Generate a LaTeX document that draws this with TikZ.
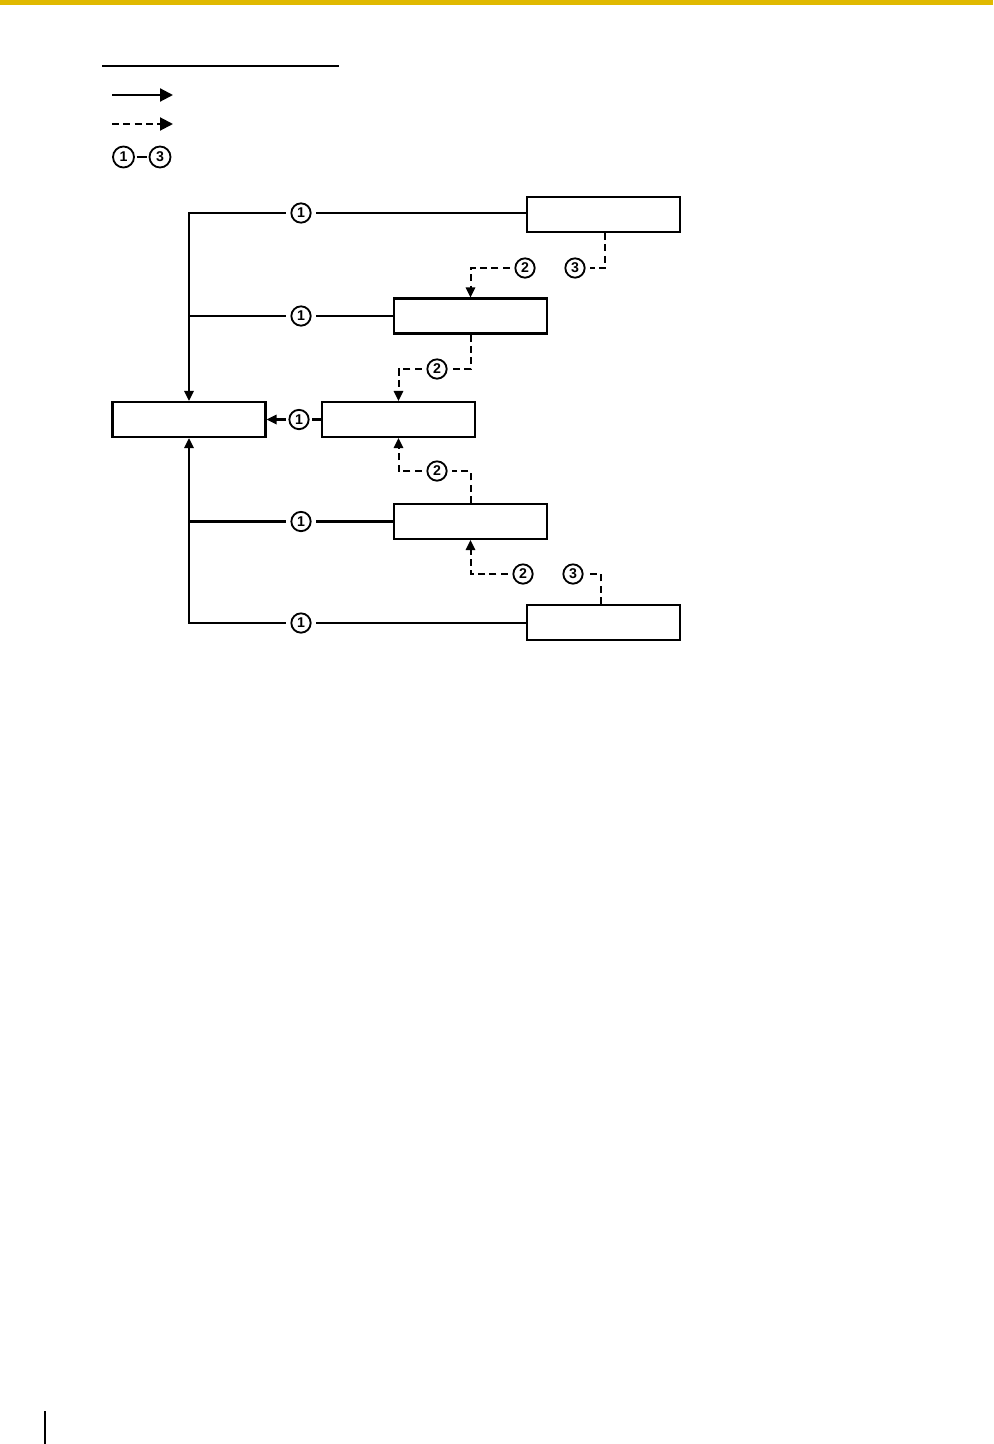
\documentclass[tikz,border=0pt]{standalone}
\usepackage{fontspec}
\setsansfont{Liberation Sans}
\usetikzlibrary{arrows.meta}
\definecolor{pagebar}{RGB}{224,185,0}
\tikzset{
  unit/.style={draw,line width=1.3pt,rectangle,minimum width=91.8pt,minimum height=21pt,inner sep=0pt},
  num/.style={draw,line width=1.1pt,circle,minimum size=11.6pt,inner sep=0pt,outer sep=3.4pt,font=\sffamily\bfseries\fontsize{8.5}{9}\selectfont},
  wire/.style={line width=1.3pt},
  link/.style={line width=1.2pt,dash pattern=on 4.2pt off 2.6pt},
  tip/.style={-{Triangle[length=6pt,width=5.6pt]}}
}
\begin{document}
\begin{tikzpicture}[x=0.6pt,y=-0.6pt]
  \useasboundingbox (0,0) rectangle (993,1444);
  \fill [pagebar] (0,0) rectangle (993,5);
  \fill (43.5,1411) rectangle (45.5,1444);
  % legend
  \coordinate (lineL) at (102,66);
  \coordinate (lineR) at (339,66);
  \draw [line width=1pt] (lineL) -- (lineR);
  \coordinate (solidL) at (112,95);
  \coordinate (solidR) at (173,95);
  \draw [wire,-{Triangle[length=7.8pt,width=7.8pt]}] (solidL) -- (solidR);
  \coordinate (dashL) at (112,124);
  \coordinate (dashR) at (173,124);
  \draw [link,-{Triangle[length=7.8pt,width=7.8pt]}] (dashL) -- (dashR);
  \node (keyone) at (123.5,157) [num,minimum size=12.6pt,outer sep=1.5pt] {1};
  \node (keythree) at (160,157) [num,minimum size=12.6pt,outer sep=1.5pt] {3};
  \draw [wire] (keyone) -- (keythree);
  % units
  \node (top) at (603.5,214.5) [unit] {};
  \node (upper) at (470.5,316) [unit] {};
  \node (main) at (189,419.5) [unit] {};
  \node (mid) at (398.5,419.5) [unit] {};
  \node (lower) at (470.5,521.5) [unit] {};
  \node (bottom) at (603.5,622.5) [unit] {};
  % solid links
  \node (oneT) at (301,213) [num] {1};
  \node (oneU) at (301,316) [num] {1};
  \node (oneM) at (299,419.5) [num,outer sep=2pt] {1};
  \node (oneL) at (301,521.5) [num] {1};
  \node (oneB) at (301,623) [num] {1};
  \draw [wire] (top.west |- oneT) -- (oneT);
  \draw [wire,tip] (oneT) -| (main.north);
  \draw [wire] (upper.west) -- (oneU);
  \draw [wire] (oneU) -- (main.north |- oneU);
  \draw [wire] (mid.west) -- (oneM);
  \draw [wire,tip] (oneM) -- (main.east);
  \draw [wire] (lower.west) -- (oneL);
  \draw [wire] (oneL) -- (main.north |- oneL);
  \draw [wire] (bottom.west |- oneB) -- (oneB);
  \draw [wire,tip] (oneB) -| (main.south);
  % dashed links
  \node (twoT) at (525,268) [num] {2};
  \node (threeT) at (575,268) [num] {3};
  \node (twoU) at (437,369) [num] {2};
  \node (twoL) at (437,471) [num] {2};
  \node (twoB) at (523,574) [num] {2};
  \node (threeB) at (573,574) [num] {3};
  \draw [link] ([xshift=0.9pt]top.south) |- (threeT);
  \draw [link,tip] (twoT) -| (upper.north);
  \draw [link] (upper.south) |- (twoU);
  \draw [link,tip] (twoU) -| (mid.north);
  \draw [link] (lower.north) |- (twoL);
  \draw [link,tip] (twoL) -| (mid.south);
  \draw [link] ([xshift=-1.5pt]bottom.north) |- (threeB);
  \draw [link,tip] (twoB) -| (lower.south);
\end{tikzpicture}
\end{document}
